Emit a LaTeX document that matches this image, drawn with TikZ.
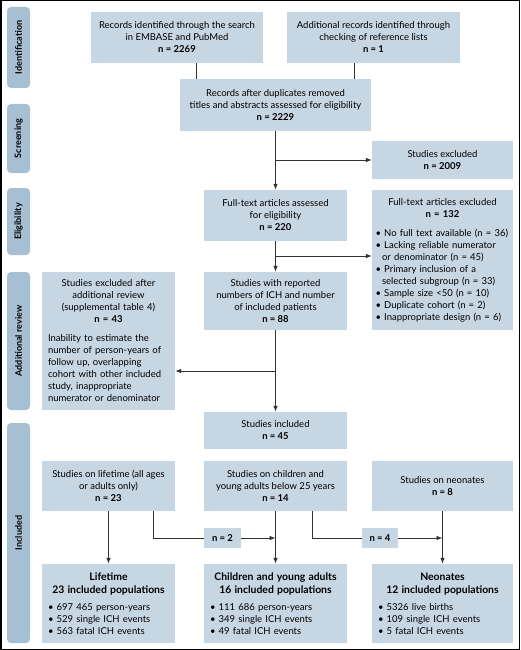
\documentclass[tikz,border=0pt]{standalone}
\usepackage{fontspec}
\setmainfont{Lato}
\usetikzlibrary{arrows.meta,calc}
\definecolor{boxc}{RGB}{199,214,227}
\definecolor{sidec}{RGB}{167,191,211}
\definecolor{linec}{RGB}{50,50,50}
\newcommand{\fs}{\fontsize{9.5}{12}\selectfont}
\newcommand{\hd}{\fontsize{10.4}{12.6}\selectfont\bfseries}
\newcommand{\bl}{\textbullet\ }
\newcommand{\ind}{\hspace*{6.6pt}}
\tikzset{
  box/.style={fill=boxc, inner xsep=4pt, inner ysep=0pt, font=\fs, align=center},
  mixbox/.style={fill=boxc, inner xsep=6pt, inner ysep=0pt, font=\fs, align=left},
  side/.style={fill=sidec, rounded corners=4pt, rotate=90, inner sep=0pt, minimum height=23pt, font=\fontsize{9}{10}\selectfont\bfseries},
  conn/.style={draw=linec, line width=0.8pt},
  arr/.style={conn, -{Latex[length=6pt,width=4.5pt]}},
}
\begin{document}
\begin{tikzpicture}[x=1pt,y=-1pt]
\useasboundingbox (0,0) rectangle (520,650);
\draw[line width=1.5pt] (0.75,0.75) rectangle (519.25,649.25);
% side labels
\node[side, minimum width=81pt] (s1) at (18.5,47.5) {Identification};
\node[side, minimum width=69pt] (s2) at (18.5,138.5) {Screening};
\node[side, minimum width=67pt] (s3) at (18.5,221.5) {Eligibility};
\node[side, minimum width=138pt] (s4) at (18.5,341) {Additional review};
\node[side, minimum width=220pt] (s5) at (18.5,533) {Included};
% boxes
\node[box, minimum width=172pt, minimum height=51pt] (b1) at (177,37.5) {Records identified through the search\\in EMBASE and PubMed\\\textbf{n = 2269}};
\node[box, minimum width=173pt, minimum height=51pt] (b2) at (373.5,37.5) {Additional records identified through\\checking of reference lists\\\textbf{n = 1}};
\node[box, minimum width=191pt, minimum height=52pt] (b3) at (275.5,105) {Records after duplicates removed\\titles and abstracts assessed for eligibility\\\textbf{n = 2229}};
\node[box, minimum width=141pt, minimum height=38pt] (exc) at (442.5,160) {Studies excluded\\\textbf{n = 2009}};
\node[box, minimum width=143pt, minimum height=51pt] (b4) at (275.5,215.5) {Full-text articles assessed\\for eligibility\\\textbf{n = 220}};
\node[mixbox, inner xsep=3.5pt, text width=134pt, minimum height=140pt] (b5) at (442.5,260) {{\centering Full-text articles excluded\\\textbf{n = 132}\par}\vspace{7pt}%
\bl No full text available (n = 36)\\
\bl Lacking reliable numerator\\
\ind or denominator (n = 45)\\
\bl Primary inclusion of a\\
\ind selected subgroup (n = 33)\\
\bl Sample size <50 (n = 10)\\
\bl Duplicate cohort (n = 2)\\
\bl Inappropriate design (n = 6)};
\node[box, minimum width=143pt, minimum height=58pt] (b6) at (275.5,301) {Studies with reported\\numbers of ICH and number\\of included patients\\\textbf{n = 88}};
\node[mixbox, text width=121pt, minimum height=138pt] (b7) at (108.5,341) {{\centering Studies excluded after\\additional review\\(supplemental table 4)\\\textbf{n = 43}\par}\vspace{7pt}%
Inability to estimate the\\
number of person-years of\\
follow up, overlapping\\
cohort with other included\\
study, inappropriate\\
numerator or denominator};
\node[box, minimum width=143pt, minimum height=37pt] (b8) at (275.5,430.5) {Studies included\\\textbf{n = 45}};
\node[box, minimum width=133pt, minimum height=50pt] (b9) at (108.5,486) {Studies on lifetime (all ages\\or adults only)\\\textbf{n = 23}};
\node[box, minimum width=143pt, minimum height=50pt] (b10) at (275.5,486) {Studies on children and\\young adults below 25 years\\\textbf{n = 14}};
\node[box, minimum width=141pt, minimum height=50pt] (b11) at (442.5,486) {Studies on neonates\\\textbf{n = 8}};
\node[box, inner xsep=0pt, minimum width=37pt, minimum height=20pt] (n2) at (222.5,538) {\textbf{n = 2}};
\node[box, inner xsep=0pt, minimum width=36pt, minimum height=20pt] (n4) at (380,538) {\textbf{n = 4}};
\node[mixbox, text width=121pt, minimum height=79pt] (L) at (108.5,603.5) {{\centering\hd Lifetime\\23 included populations\par}\vspace{5pt}%
\bl 697 465 person-years\\
\bl 529 single ICH events\\
\bl 563 fatal ICH events};
\node[mixbox, text width=131pt, minimum height=79pt] (C) at (275.5,603.5) {{\centering\hd Children and young adults\\16 included populations\par}\vspace{5pt}%
\bl 111 686 person-years\\
\bl 349 single ICH events\\
\bl 49 fatal ICH events};
\node[mixbox, text width=129pt, minimum height=79pt] (N) at (442.5,603.5) {{\centering\hd Neonates\\12 included populations\par}\vspace{5pt}%
\bl 5326 live births\\
\bl 109 single ICH events\\
\bl 5 fatal ICH events};
% connectors
\coordinate (t1) at (196,0);
\coordinate (t2) at (354,0);
\draw[conn] (t1 |- b1.south) -- (t1 |- b3.north);
\draw[conn] (t2 |- b2.south) -- (t2 |- b3.north);
\draw[arr] (b3.south) -- (b4.north);
\draw[arr] (b3.south |- exc.west) -- (exc.west);
\coordinate (j2) at (275.5,256);
\draw[arr] (b4.south) -- (b6.north);
\draw[arr] (j2) -- (j2 -| b5.west);
\coordinate (j3) at (275.5,371);
\draw[arr] (b6.south) -- (b8.north);
\draw[arr] (j3) -- (j3 -| b7.east);
\draw[arr] (b9.south) -- (L.north);
\draw[arr] (b10.south) -- (C.north);
\draw[arr] (b11.south) -- (N.north);
\coordinate (k1) at (153,538);
\coordinate (k2) at (312,538);
\draw[conn] (k1 |- b9.south) -- (k1) -- (n2.west);
\draw[arr] (n2.east) -- (n2.east -| C.north);
\draw[conn] (k2 |- b10.south) -- (k2) -- (n4.west);
\draw[arr] (n4.east) -- (n4.east -| N.north);
\end{tikzpicture}
\end{document}
